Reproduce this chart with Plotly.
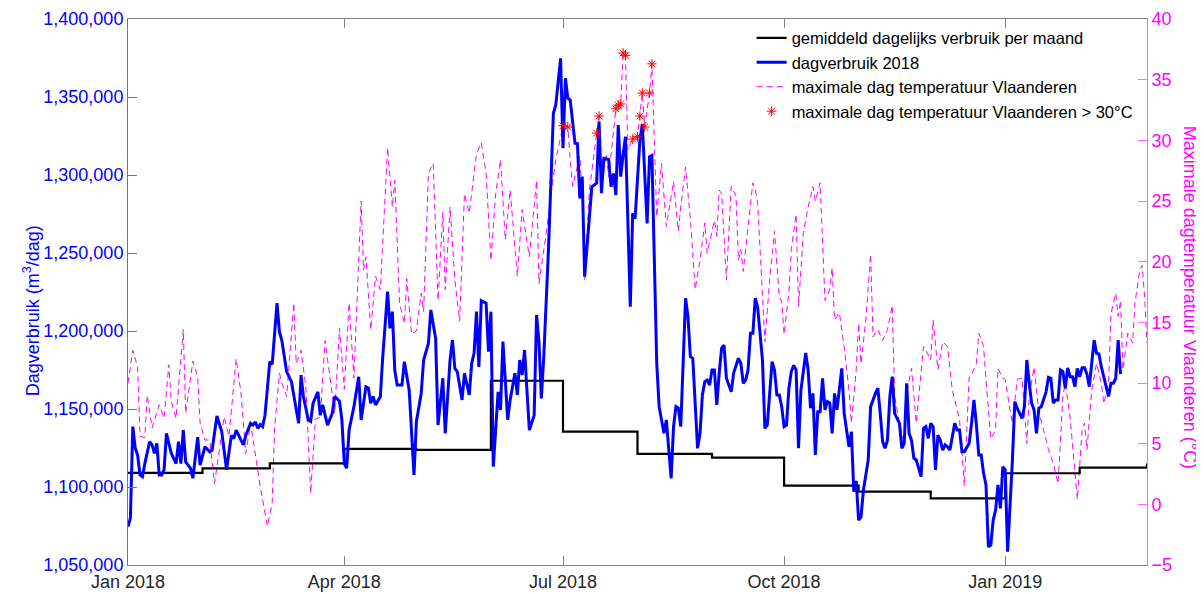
import pandas as pd
import plotly.graph_objects as go

# ---------------- data ----------------
START = "2018-01-01"

# daily consumption 2018 (m3/day): day offset since 1 Jan 2018, value
blue_day = [0,1,2,3,4,5,6,7,9,10,11,12,13,14,15,16,18,20,21,22,23,24,26,27,29,30,32,34,35,37,39,41,43,44,45,46,48,49,51,52,53,54,55,56,57,59,60,62,63,64,66,68,69,71,72,73,75,76,77,79,80,81,83,85,86,88,89,90,91,92,94,96,97,99,100,101,102,103,105,106,108,109,110,111,112,114,115,117,119,120,122,123,125,126,128,129,131,132,134,135,136,137,139,140,142,143,144,145,146,147,149,150,151,152,154,155,156,158,159,161,162,163,164,165,167,169,170,171,172,173,175,177,178,180,181,182,183,184,186,187,188,189,190,192,193,195,196,197,198,200,201,202,203,204,205,206,207,209,210,211,213,214,216,217,218,220,221,223,224,226,227,228,229,230,232,233,234,235,236,237,238,239,240,241,242,243,244,245,246,247,248,249,251,252,254,255,256,257,258,259,260,261,262,264,265,266,268,269,270,271,272,273,274,275,276,277,278,279,280,282,283,284,285,286,287,288,289,290,291,292,293,294,295,297,298,300,301,302,303,304,305,306,308,309,311,312,313,314,315,316,317,318,319,321,322,323,324,325,326,327,328,330,331,332,333,334,335,336,337,338,339,340,341,342,344,345,346,347,348,350,351,352,353,354,355,356,357,358,359,360,361,362,363,364,365,366,368,369,370,372,373,374,375,376,377,378,379,380,382,383,384,385,386,387,388,389,390,391,392,393,394,395,396,397,398,399,400,401,402,403,404,405,407,408,409,410,411,412,413]
blue_m3 = [1074600,1080000,1138700,1125000,1120500,1107700,1106600,1115000,1129000,1127000,1121600,1128000,1107700,1107700,1111000,1134400,1121600,1115000,1129000,1115000,1136500,1116000,1112000,1105600,1132000,1114000,1125800,1122600,1123700,1145500,1135500,1111000,1133000,1131000,1136500,1133000,1127000,1133000,1140800,1139800,1141700,1137600,1140000,1138700,1146000,1180300,1178600,1217800,1199600,1194000,1174000,1167500,1158000,1140800,1171800,1157900,1143000,1142000,1153700,1161000,1146000,1152600,1139700,1147200,1158000,1155000,1143000,1115000,1112000,1136500,1151500,1170700,1143000,1164300,1163500,1153700,1158000,1152600,1158000,1183500,1225200,1201700,1212400,1175000,1165400,1165400,1180300,1162000,1107700,1141900,1160000,1181400,1192000,1213500,1195300,1139700,1169700,1134400,1181400,1194200,1176000,1174000,1155800,1172900,1159000,1179300,1185700,1212400,1177000,1219400,1217800,1186700,1212400,1113000,1161000,1149400,1193200,1143000,1155800,1172900,1159000,1181400,1171800,1187800,1136500,1146000,1210300,1193200,1156800,1183500,1254000,1339600,1344900,1374800,1317100,1362000,1349200,1348000,1320300,1320000,1285000,1299000,1234800,1277600,1292500,1294700,1334200,1288300,1310700,1310000,1292500,1301000,1287200,1332000,1299000,1313000,1324500,1215600,1275400,1272000,1322400,1332700,1269000,1311700,1312500,1179300,1151500,1134400,1143000,1105600,1138700,1151500,1150500,1138700,1221000,1209200,1183500,1182500,1151500,1124800,1134400,1159000,1167500,1168500,1165400,1175000,1175000,1152600,1173000,1189000,1191000,1169700,1161000,1173000,1182500,1179300,1166500,1168500,1175000,1198500,1198500,1221000,1215000,1181400,1137600,1139700,1180300,1175000,1159000,1159000,1151500,1138700,1139700,1163300,1174000,1178000,1175000,1124800,1162000,1186000,1175000,1150500,1160000,1120500,1148300,1148300,1169700,1149400,1154700,1153700,1134400,1160000,1149400,1176000,1147200,1125800,1135500,1097000,1104000,1078800,1080800,1098000,1117300,1151500,1160000,1163300,1147200,1129000,1124800,1130000,1158000,1170700,1147200,1140800,1124800,1128000,1166500,1134400,1130000,1118400,1117300,1106600,1137600,1138700,1131200,1140800,1138700,1111000,1133300,1130000,1123700,1127000,1125800,1123700,1140800,1136500,1136500,1122600,1122600,1128000,1140800,1155800,1140000,1120500,1120500,1108800,1101300,1061700,1062700,1078800,1085200,1101300,1086300,1113000,1110900,1058500,1117300,1154700,1150500,1144000,1151500,1181400,1166500,1153700,1149400,1134400,1150500,1151500,1161000,1170300,1169700,1153700,1155800,1155800,1175000,1174000,1163300,1176400,1170700,1170700,1164300,1176000,1170700,1176400,1176400,1172400,1164300,1179300,1194200,1185700,1185300,1177000,1165400,1158000,1166500,1166500,1169700,1194200,1172400]

# maximum daily temperature Flanders (deg C)
temp_day = [0,2,4,5,7,8,10,13,15,17,18,20,23,24,27,29,30,32,34,36,38,40,42,45,47,49,51,53,55,58,60,61,63,64,66,69,70,72,74,76,78,80,82,84,86,88,90,92,94,97,98,99,101,103,105,108,110,111,113,115,116,118,120,122,123,125,127,129,131,132,134,136,138,140,142,145,147,149,151,153,155,157,159,162,164,167,170,171,174,176,178,181,183,184,185,188,189,190,192,195,196,197,199,200,203,204,205,206,207,208,210,212,213,214,215,217,218,219,220,222,224,227,229,230,232,234,236,238,240,241,244,245,246,247,249,251,253,254,255,256,260,261,262,265,267,269,271,272,273,275,276,278,279,281,283,285,286,288,290,292,293,294,296,298,300,301,303,304,305,307,309,310,312,314,316,318,319,321,323,324,326,328,331,332,334,335,337,339,341,343,346,348,350,351,353,354,356,357,359,361,362,364,365,367,368,370,372,374,375,377,379,381,383,385,387,389,390,392,393,395,397,398,399,401,403,405,406,408,409,411,412,413,414,416,418,419,421,422,423,424]
temp_c = [10.0,12.7,11.3,5.6,5.5,9.0,6.3,8.2,7.1,11.5,8.5,7.1,14.4,7.5,11.8,10.5,6.7,5.3,5.3,1.7,4.5,7.2,5.6,12.0,9.2,4.2,6.7,3.9,1.5,-1.8,0.1,6.3,10.8,10.0,8.9,16.6,11.6,12.7,9.7,0.9,7.0,7.2,13.5,10.5,7.5,14.5,9.5,16.6,10.4,25.0,19.3,20.4,14.4,18.8,17.7,29.4,24.5,26.7,16.6,14.9,18.6,14.0,14.3,17.4,15.9,27.3,28.1,16.8,24.1,17.7,24.5,18.5,15.1,25.6,24.0,28.9,29.8,27.3,20.1,25.6,28.4,21.8,25.9,18.8,24.3,20.4,26.7,18.2,22.3,25.6,28.4,31.2,31.1,28.4,26.2,28.7,25.6,18.5,25.9,30.6,32.0,26.2,28.9,27.0,32.6,32.9,33.0,37.2,37.0,29.2,30.1,30.3,32.0,33.9,31.1,33.9,36.3,30.0,23.7,28.1,22.9,26.6,22.5,24.5,27.8,23.5,17.7,20.1,23.2,20.7,23.4,22.1,25.9,25.6,18.5,26.2,25.4,20.1,21.0,19.2,26.5,26.0,24.8,13.4,18.5,22.5,17.1,16.7,14.0,17.5,21.0,23.9,16.3,22.4,24.5,26.2,25.0,26.5,16.8,17.7,19.5,15.2,15.8,13.0,9.4,6.7,11.1,14.9,11.6,15.2,20.6,13.8,14.4,13.5,14.4,16.4,8.9,6.7,5.0,9.2,11.2,6.7,13.0,12.7,11.9,15.2,11.1,13.4,13.0,9.4,7.0,1.5,10.5,10.7,11.6,14.1,13.0,10.3,5.4,6.1,11.2,10.4,10.3,7.8,6.7,10.3,10.4,5.0,8.9,11.3,7.6,6.1,4.5,3.4,1.7,8.9,10.0,7.2,4.8,0.4,6.1,6.7,4.5,9.4,11.6,10.0,8.3,10.0,15.7,17.4,15.5,16.8,11.1,14.1,13.3,16.6,19.3,19.7,17.1,13.3]

# average daily consumption per month (m3/day)
month_start = ["2018-01-01","2018-02-01","2018-03-01","2018-04-01","2018-05-01","2018-06-01",
               "2018-07-01","2018-08-01","2018-09-01","2018-10-01","2018-11-01","2018-12-01",
               "2019-01-01","2019-02-01","2019-03-01"]
month_avg = [1109000,1112000,1115200,1124400,1123800,1168100,1135500,1121200,1118800,
             1100900,1097000,1092700,1108800,1112400,1115000]

HOT_LIMIT = 30

x_ticks = ["2018-01-01","2018-04-01","2018-07-01","2018-10-01","2019-01-01"]
x_labels = ["Jan 2018","Apr 2018","Jul 2018","Oct 2018","Jan 2019"]
y1_ticks = list(range(1050000, 1400001, 50000))
y2_ticks = list(range(-5, 41, 5))

# ---------------- figure ----------------
t0 = pd.Timestamp(START)
blue_x = [t0 + pd.Timedelta(days=d) for d in blue_day]
temp_x = [t0 + pd.Timedelta(days=d) for d in temp_day]
hot_x = [x for x, t in zip(temp_x, temp_c) if t > HOT_LIMIT]
hot_t = [t for t in temp_c if t > HOT_LIMIT]

FONT = "Liberation Sans, Arial, sans-serif"
BLUE = "#0000FF"
MAG = "#FF00FF"

fig = go.Figure()
fig.add_trace(go.Scatter(
    x=temp_x, y=temp_c, mode="lines", yaxis="y",
    line=dict(color=MAG, width=1, dash="6px,4px"),
    name="maximale dag temperatuur Vlaanderen", legendrank=3))
fig.add_trace(go.Scatter(
    x=month_start, y=month_avg, mode="lines", yaxis="y2", line_shape="hv",
    line=dict(color="black", width=2.2),
    name="gemiddeld dagelijks verbruik per maand", legendrank=1))
fig.add_trace(go.Scatter(
    x=blue_x, y=blue_m3, mode="lines", yaxis="y2",
    line=dict(color=BLUE, width=3),
    name="dagverbruik 2018", legendrank=2))
fig.add_trace(go.Scatter(
    x=hot_x, y=hot_t, mode="markers", yaxis="y3",
    marker=dict(symbol="asterisk-open", size=8, color="#FF0000",
                line=dict(color="#FF0000", width=1)),
    name="maximale dag temperatuur Vlaanderen > 30°C", legendrank=4))

# page body has an 8px margin, so the figure is drawn 8px right/down
fig.update_layout(
    width=1196, height=586, template="none",
    paper_bgcolor="white", plot_bgcolor="white",
    margin=dict(l=120, r=57, t=11, b=29),
    font=dict(family=FONT, size=18, color="#262626"),
    showlegend=True,
    legend=dict(x=0.612, y=0.997, xanchor="left", yanchor="top",
                bgcolor="rgba(255,255,255,0)", borderwidth=0,
                font=dict(family=FONT, size=16.5, color="#000000"),
                itemwidth=30, tracegroupgap=0),
    xaxis=dict(type="date", range=[START, "2019-03-01"],
               tickvals=x_ticks, ticktext=x_labels,
               showline=True, linecolor="#7f7f7f", linewidth=1, mirror="ticks",
               ticks="inside", ticklen=9, tickcolor="#7f7f7f",
               showgrid=False, zeroline=False, automargin=False,
               tickfont=dict(size=18, color="#262626")),
    yaxis=dict(range=[-5, 40], side="right", tickvals=y2_ticks,
               showline=True, linecolor="#FF66FF", linewidth=1,
               ticks="inside", ticklen=9, tickcolor="#FF66FF",
               showgrid=False, zeroline=False, automargin=False,
               tickfont=dict(size=18, color=MAG)),
    yaxis2=dict(range=[1050000, 1400000], side="left", overlaying="y",
                tickvals=y1_ticks, tickformat=",",
                showline=True, linecolor="#6666FF", linewidth=1,
                ticks="inside", ticklen=9, tickcolor="#6666FF",
                showgrid=False, zeroline=False, automargin=False,
                tickfont=dict(size=18, color=BLUE)),
    yaxis3=dict(range=[-5, 40], overlaying="y", visible=False,
                showgrid=False, zeroline=False),
    annotations=[
        dict(text="Dagverbruik (m<sup>3</sup>/dag)", xref="paper", yref="paper",
             x=-0.095, y=0.465, xanchor="center", yanchor="middle",
             textangle=-90, showarrow=False,
             font=dict(family=FONT, size=18, color=BLUE)),
        dict(text="Maximale dagtemperatuur Vlaanderen (°C)", xref="paper", yref="paper",
             x=1.042, y=0.49, xanchor="center", yanchor="middle",
             textangle=90, showarrow=False,
             font=dict(family=FONT, size=18, color=MAG)),
    ],
)

fig.write_html("out.html")
